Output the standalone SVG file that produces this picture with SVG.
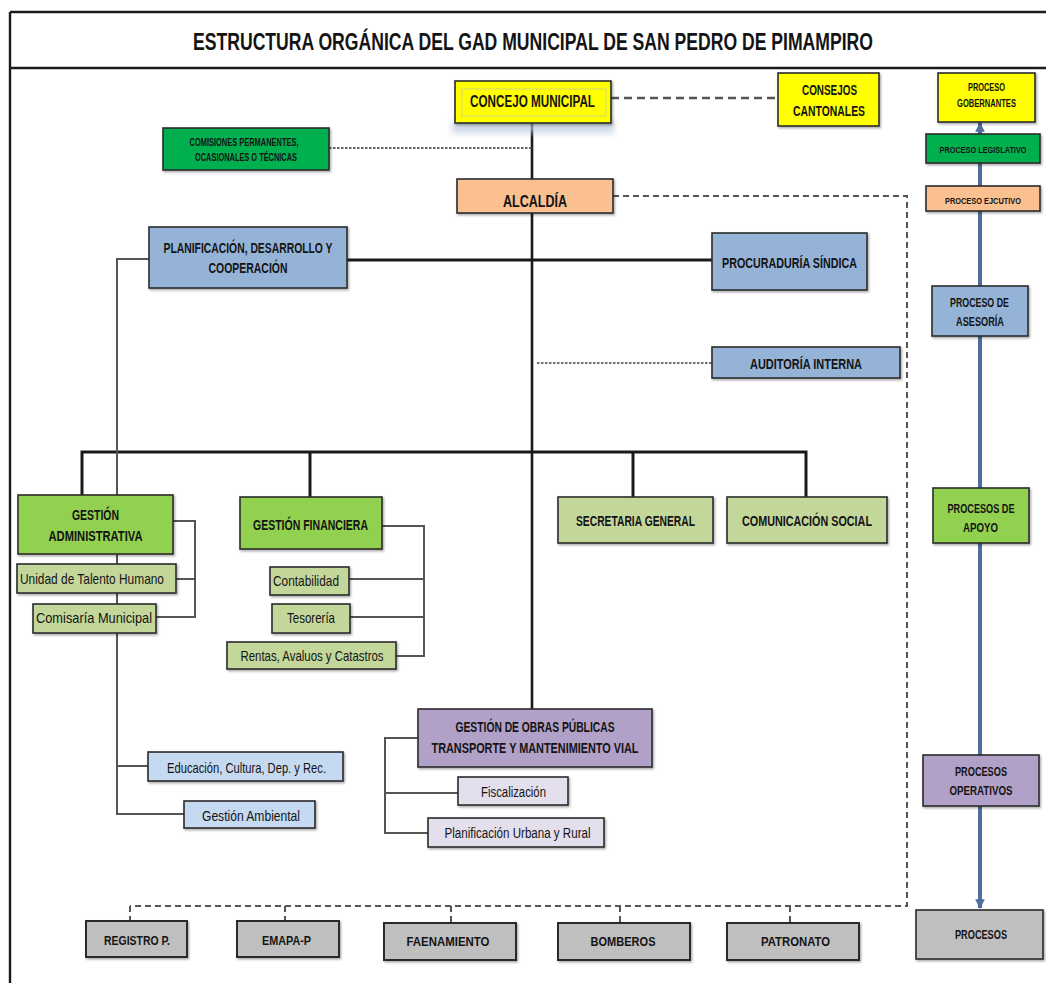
<svg xmlns="http://www.w3.org/2000/svg" width="1046" height="983" viewBox="0 0 1046 983">
<style>
  .bx{stroke:#2b2b2b;stroke-width:1.6;filter:url(#sh)}
  .t{font-family:'Liberation Sans Narrow','Liberation Sans',Arial,sans-serif;font-weight:bold;fill:#141414;text-anchor:middle}
  .r{font-family:'Liberation Sans Narrow','Liberation Sans',Arial,sans-serif;font-weight:normal;fill:#141414;text-anchor:middle}
  .main{stroke:#1a1a1a;stroke-width:2.6;fill:none}
  .br{stroke:#555;stroke-width:2;fill:none}
  .dash{stroke:#555;stroke-width:2;fill:none;stroke-dasharray:6 4}
  .dot{stroke:#666;stroke-width:2;fill:none;stroke-dasharray:2.5 1.5}
  .frame{stroke:#1a1a1a;stroke-width:2.4;fill:none}
  .flow{stroke:#4E6E9E;stroke-width:4;fill:none}
</style>
<defs>
  <filter id="sh" x="-10%" y="-10%" width="130%" height="140%">
    <feDropShadow dx="1.2" dy="1.5" stdDeviation="0.9" flood-color="#000" flood-opacity="0.35"/>
  </filter>
  <filter id="glow" x="-20%" y="-50%" width="140%" height="200%">
    <feGaussianBlur stdDeviation="3"/>
  </filter>
  <marker id="ah" viewBox="0 0 10 10" refX="9" refY="5" markerWidth="2.4" markerHeight="2.4" orient="auto-start-reverse">
    <path d="M0,0 L10,5 L0,10 z" fill="#4E6E9E"/>
  </marker>
</defs>
<rect width="1046" height="983" fill="#fff"/>

<g id="frame">
  <line class="frame" x1="10" y1="12" x2="1046" y2="12"/>
  <line class="frame" x1="10" y1="68" x2="1046" y2="68"/>
  <line class="frame" x1="10" y1="12" x2="10" y2="983"/>
  <text class="t" x="533" y="50" font-size="24" textLength="680" lengthAdjust="spacingAndGlyphs">ESTRUCTURA ORGÁNICA DEL GAD MUNICIPAL DE SAN PEDRO DE PIMAMPIRO</text>
</g>

<g id="connectors">
  <line class="flow" x1="980" y1="206" x2="980" y2="908" marker-end="url(#ah)"/>
  <line class="flow" x1="980" y1="200" x2="980" y2="123" marker-end="url(#ah)"/>
  <line class="main" x1="532" y1="123" x2="532" y2="709"/>
  <line class="dash" x1="611" y1="98" x2="778" y2="98" style="stroke-width:2.5;stroke-dasharray:8 5"/>
  <line class="dot" x1="329" y1="148" x2="532" y2="148"/>
  <polyline class="dash" points="613,196 907,196 907,906 130,906"/>
  <line class="dash" x1="130" y1="906" x2="130" y2="921"/>
  <line class="dash" x1="285" y1="906" x2="285" y2="921"/>
  <line class="dash" x1="451" y1="906" x2="451" y2="923"/>
  <line class="dash" x1="620" y1="906" x2="620" y2="923"/>
  <line class="dash" x1="790" y1="906" x2="790" y2="923"/>
  <line class="main" x1="347" y1="260" x2="712" y2="260" style="stroke-width:3"/>
  <line class="dot" x1="537" y1="363" x2="712" y2="363" style="stroke:#444;stroke-width:1.6"/>
  <polyline class="main" points="82,495 82,452 806,452 806,497" style="stroke-width:3"/>
  <line class="main" x1="310" y1="452" x2="310" y2="497" style="stroke-width:3"/>
  <line class="main" x1="633" y1="452" x2="633" y2="497" style="stroke-width:3"/>
  <polyline class="br" points="149,259 117,259 117,814 184,814"/>
  <line class="br" x1="117" y1="766" x2="148" y2="766"/>
  <polyline class="br" points="173,521 195,521 195,617 156,617"/>
  <line class="br" x1="176" y1="579" x2="195" y2="579"/>
  <polyline class="br" points="382,526 424,526 424,656 396,656"/>
  <line class="br" x1="349" y1="579" x2="424" y2="579"/>
  <line class="br" x1="350" y1="617" x2="424" y2="617"/>
  <polyline class="br" points="418,738 385,738 385,833 428,833"/>
  <line class="br" x1="385" y1="793" x2="458" y2="793"/>
</g>

<g id="concejo-municipal">
  <rect x="452" y="121" width="162" height="12" fill="#B8C7DC" opacity="0.7" filter="url(#glow)"/>
  <rect class="bx" x="455" y="81" width="156" height="42" fill="#FFFF00"/>
  <rect x="462" y="89" width="144" height="27" fill="none" stroke="#c8c8a0" stroke-width="0.8"/>
  <text class="t" x="532.5" y="107" font-size="16" textLength="125" lengthAdjust="spacingAndGlyphs">CONCEJO MUNICIPAL</text>
</g>
<g id="consejos-cantonales">
  <rect class="bx" x="778" y="73" width="101" height="53" fill="#FFFF00"/>
  <text class="t" x="829.5" y="95" font-size="14.5" textLength="55" lengthAdjust="spacingAndGlyphs">CONSEJOS</text>
  <text class="t" x="829" y="116" font-size="14.5" textLength="72" lengthAdjust="spacingAndGlyphs">CANTONALES</text>
</g>
<g id="comisiones">
  <rect class="bx" x="163" y="128" width="166" height="42" fill="#00B050"/>
  <text class="t" x="244" y="146" font-size="10.5" textLength="109" lengthAdjust="spacingAndGlyphs">COMISIONES PERMANENTES,</text>
  <text class="t" x="246" y="161" font-size="10.5" textLength="102" lengthAdjust="spacingAndGlyphs">OCASIONALES O TÉCNICAS</text>
</g>
<g id="alcaldia">
  <rect class="bx" x="457" y="179" width="156" height="34" fill="#FAC090"/>
  <text class="t" x="535" y="207" font-size="17" textLength="64" lengthAdjust="spacingAndGlyphs">ALCALDÍA</text>
</g>
<g id="planificacion">
  <rect class="bx" x="149" y="227" width="198" height="61" fill="#95B3D7"/>
  <text class="t" x="248" y="253" font-size="14" textLength="169" lengthAdjust="spacingAndGlyphs">PLANIFICACIÓN, DESARROLLO Y</text>
  <text class="t" x="248" y="273" font-size="14" textLength="79" lengthAdjust="spacingAndGlyphs">COOPERACIÓN</text>
</g>
<g id="procuraduria">
  <rect class="bx" x="712" y="233" width="155" height="57" fill="#95B3D7"/>
  <text class="t" x="789.5" y="268" font-size="14" textLength="135" lengthAdjust="spacingAndGlyphs">PROCURADURÍA SÍNDICA</text>
</g>
<g id="auditoria">
  <rect class="bx" x="712" y="347" width="188" height="31" fill="#95B3D7"/>
  <text class="t" x="806" y="369" font-size="14" textLength="112" lengthAdjust="spacingAndGlyphs">AUDITORÍA INTERNA</text>
</g>

<g id="gestion-administrativa">
  <rect class="bx" x="18" y="495" width="155" height="59" fill="#92D050"/>
  <text class="t" x="95.5" y="520" font-size="15" textLength="47" lengthAdjust="spacingAndGlyphs">GESTIÓN</text>
  <text class="t" x="95.5" y="541" font-size="15" textLength="94" lengthAdjust="spacingAndGlyphs">ADMINISTRATIVA</text>
</g>
<g id="talento-humano">
  <rect class="bx" x="17" y="564" width="159" height="29" fill="#C4D79B"/>
  <text class="r" x="92" y="584" font-size="15" textLength="144" lengthAdjust="spacingAndGlyphs">Unidad de Talento Humano</text>
</g>
<g id="comisaria">
  <rect class="bx" x="33" y="604" width="123" height="29" fill="#C4D79B"/>
  <text class="r" x="94" y="623" font-size="15" textLength="116" lengthAdjust="spacingAndGlyphs">Comisaría Municipal</text>
</g>
<g id="gestion-financiera">
  <rect class="bx" x="240" y="497" width="142" height="52" fill="#92D050"/>
  <text class="t" x="310.5" y="530" font-size="15" textLength="115" lengthAdjust="spacingAndGlyphs">GESTIÓN FINANCIERA</text>
</g>
<g id="contabilidad">
  <rect class="bx" x="270" y="567" width="79" height="28" fill="#C4D79B"/>
  <text class="r" x="306" y="586" font-size="15" textLength="66" lengthAdjust="spacingAndGlyphs">Contabilidad</text>
</g>
<g id="tesoreria">
  <rect class="bx" x="272" y="604" width="78" height="29" fill="#C4D79B"/>
  <text class="r" x="311" y="623" font-size="15" textLength="48" lengthAdjust="spacingAndGlyphs">Tesorería</text>
</g>
<g id="rentas">
  <rect class="bx" x="227" y="642" width="169" height="27" fill="#C4D79B"/>
  <text class="r" x="312" y="661" font-size="15" textLength="143" lengthAdjust="spacingAndGlyphs">Rentas, Avaluos y Catastros</text>
</g>
<g id="secretaria-general">
  <rect class="bx" x="558" y="497" width="155" height="46" fill="#C4D79B"/>
  <text class="t" x="635.5" y="526" font-size="14.5" textLength="119" lengthAdjust="spacingAndGlyphs">SECRETARIA GENERAL</text>
</g>
<g id="comunicacion-social">
  <rect class="bx" x="727" y="497" width="160" height="46" fill="#C4D79B"/>
  <text class="t" x="807" y="526" font-size="14.5" textLength="130" lengthAdjust="spacingAndGlyphs">COMUNICACIÓN SOCIAL</text>
</g>
<g id="educacion">
  <rect class="bx" x="148" y="752" width="195" height="29" fill="#C5D9F1"/>
  <text class="r" x="246.5" y="773" font-size="14.5" textLength="159" lengthAdjust="spacingAndGlyphs">Educación, Cultura, Dep. y Rec.</text>
</g>
<g id="gestion-ambiental">
  <rect class="bx" x="184" y="801" width="131" height="27" fill="#C5D9F1"/>
  <text class="r" x="251" y="821" font-size="14.5" textLength="98" lengthAdjust="spacingAndGlyphs">Gestión Ambiental</text>
</g>
<g id="obras-publicas">
  <rect class="bx" x="418" y="709" width="234" height="58" fill="#B1A0C7"/>
  <text class="t" x="535" y="732" font-size="14" textLength="159" lengthAdjust="spacingAndGlyphs">GESTIÓN DE OBRAS PÚBLICAS</text>
  <text class="t" x="535" y="753" font-size="14" textLength="207" lengthAdjust="spacingAndGlyphs">TRANSPORTE Y MANTENIMIENTO VIAL</text>
</g>
<g id="fiscalizacion">
  <rect class="bx" x="458" y="777" width="110" height="28" fill="#E4DFEC"/>
  <text class="r" x="513.5" y="797" font-size="14" textLength="65" lengthAdjust="spacingAndGlyphs">Fiscalización</text>
</g>
<g id="planificacion-urbana">
  <rect class="bx" x="428" y="818" width="176" height="29" fill="#E4DFEC"/>
  <text class="r" x="517.5" y="838" font-size="14" textLength="146" lengthAdjust="spacingAndGlyphs">Planificación Urbana y Rural</text>
</g>

<g id="registro">
  <rect class="bx" x="86" y="921" width="101" height="36" fill="#BFBFBF" style="stroke-width:2"/>
  <text class="t" x="137" y="945" font-size="13.5" textLength="66" lengthAdjust="spacingAndGlyphs">REGISTRO P.</text>
</g>
<g id="emapa">
  <rect class="bx" x="237" y="921" width="102" height="36" fill="#BFBFBF" style="stroke-width:2"/>
  <text class="t" x="286.5" y="945" font-size="13.5" textLength="49" lengthAdjust="spacingAndGlyphs">EMAPA-P</text>
</g>
<g id="faenamiento">
  <rect class="bx" x="384" y="923" width="132" height="37" fill="#BFBFBF" style="stroke-width:2"/>
  <text class="t" x="448" y="946" font-size="13.5" textLength="83" lengthAdjust="spacingAndGlyphs">FAENAMIENTO</text>
</g>
<g id="bomberos">
  <rect class="bx" x="558" y="923" width="132" height="37" fill="#BFBFBF" style="stroke-width:2"/>
  <text class="t" x="623" y="946" font-size="13.5" textLength="65" lengthAdjust="spacingAndGlyphs">BOMBEROS</text>
</g>
<g id="patronato">
  <rect class="bx" x="727" y="923" width="132" height="37" fill="#BFBFBF" style="stroke-width:2"/>
  <text class="t" x="795.5" y="946" font-size="13.5" textLength="69" lengthAdjust="spacingAndGlyphs">PATRONATO</text>
</g>

<g id="proceso-gobernantes">
  <rect class="bx" x="938" y="73" width="97" height="49" fill="#FFFF00"/>
  <text class="t" x="986.5" y="91" font-size="10" textLength="37" lengthAdjust="spacingAndGlyphs">PROCESO</text>
  <text class="t" x="986.5" y="107" font-size="10" textLength="59" lengthAdjust="spacingAndGlyphs">GOBERNANTES</text>
</g>
<g id="proceso-legislativo">
  <rect class="bx" x="926" y="134" width="114" height="29" fill="#00B050"/>
  <text class="t" x="983" y="152.5" font-size="9.5" textLength="87" lengthAdjust="spacingAndGlyphs">PROCESO LEGISLATIVO</text>
</g>
<g id="proceso-ejecutivo">
  <rect class="bx" x="926" y="186" width="114" height="25" fill="#FAC090"/>
  <text class="t" x="983" y="203.5" font-size="9.5" textLength="76" lengthAdjust="spacingAndGlyphs">PROCESO EJCUTIVO</text>
</g>
<g id="proceso-asesoria">
  <rect class="bx" x="932" y="286" width="96" height="50" fill="#95B3D7"/>
  <text class="t" x="979.5" y="307" font-size="13" textLength="59" lengthAdjust="spacingAndGlyphs">PROCESO DE</text>
  <text class="t" x="980" y="326" font-size="13" textLength="48" lengthAdjust="spacingAndGlyphs">ASESORÍA</text>
</g>
<g id="procesos-apoyo">
  <rect class="bx" x="933" y="488" width="96" height="55" fill="#92D050"/>
  <text class="t" x="981" y="513" font-size="13" textLength="67" lengthAdjust="spacingAndGlyphs">PROCESOS DE</text>
  <text class="t" x="980.5" y="532" font-size="13" textLength="35" lengthAdjust="spacingAndGlyphs">APOYO</text>
</g>
<g id="procesos-operativos">
  <rect class="bx" x="923" y="755" width="116" height="51" fill="#B1A0C7"/>
  <text class="t" x="981" y="776" font-size="13" textLength="52" lengthAdjust="spacingAndGlyphs">PROCESOS</text>
  <text class="t" x="981" y="795" font-size="13" textLength="63" lengthAdjust="spacingAndGlyphs">OPERATIVOS</text>
</g>
<g id="procesos">
  <rect class="bx" x="916" y="910" width="127" height="49" fill="#BFBFBF"/>
  <text class="t" x="981" y="939" font-size="13" textLength="52" lengthAdjust="spacingAndGlyphs">PROCESOS</text>
</g>
</svg>
